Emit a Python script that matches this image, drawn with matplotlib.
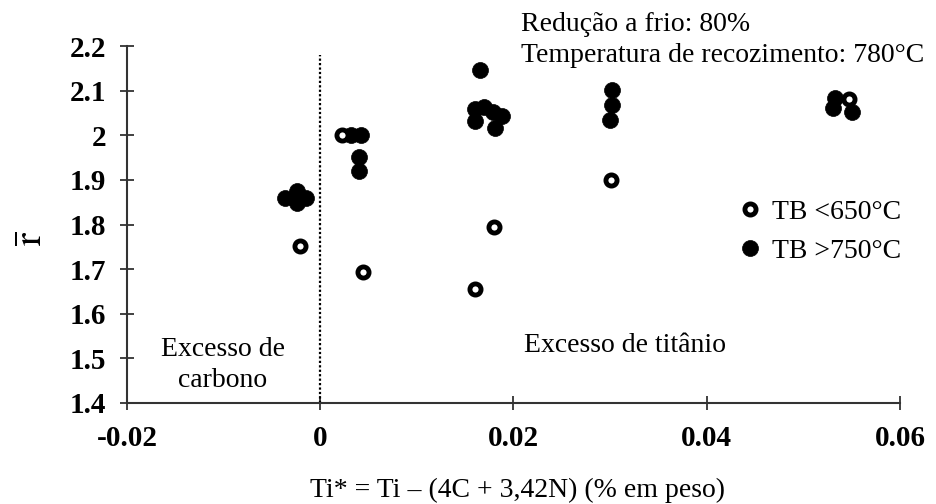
import matplotlib
matplotlib.use("Agg")
import matplotlib.pyplot as plt
import numpy as np

# dados (Ti* em % peso, r médio)
x_baixo = [-0.0021, 0.0022, 0.0044, 0.0160, 0.0180, 0.0301, 0.0547]
r_baixo = [1.752, 2.000, 1.694, 1.655, 1.795, 1.900, 2.081]

x_alto = [-0.0036, -0.0024, -0.0024, -0.0024, -0.0015,
          0.0032, 0.0042, 0.0040, 0.0040,
          0.0165, 0.0160, 0.0160, 0.0169, 0.0179, 0.0188, 0.0181,
          0.0302, 0.0302, 0.0300,
          0.0533, 0.0531, 0.0550]
r_alto = [1.859, 1.874, 1.859, 1.848, 1.859,
          2.000, 2.000, 1.951, 1.919,
          2.147, 2.058, 2.033, 2.063, 2.053, 2.043, 2.016,
          2.102, 2.068, 2.035,
          2.083, 2.061, 2.053]

xticks = [-0.02, 0, 0.02, 0.04, 0.06]
xtick_labels = ['-0.02', '0', '0.02', '0.04', '0.06']
yticks = [1.4, 1.5, 1.6, 1.7, 1.8, 1.9, 2.0, 2.1, 2.2]
ytick_labels = ['1.4', '1.5', '1.6', '1.7', '1.8', '1.9', '2', '2.1', '2.2']

plt.rcParams['font.family'] = ['Liberation Serif', 'DejaVu Serif']
plt.rcParams['mathtext.fontset'] = 'stix'

fig = plt.figure(figsize=(9.36, 5.04), dpi=100)
ax = fig.add_axes([0.1357, 0.2004, 0.8258, 0.7083])

# linha pontilhada em Ti* = 0
ax.plot([0, 0], [1.4, 2.18], linestyle=(0, (1, 1)), color='black', linewidth=1.6)

ax.plot(x_alto, r_alto, linestyle='none', marker='o', markersize=11.5,
        markerfacecolor='black', markeredgecolor='black', markeredgewidth=0.5,
        label='TB >750°C', zorder=3)
ax.plot(x_baixo, r_baixo, linestyle='none', marker='o', markersize=8,
        markerfacecolor='white', markeredgecolor='black', markeredgewidth=3.5,
        label='TB <650°C', zorder=4)

ax.set_xlim(-0.02, 0.06)
ax.set_ylim(1.4, 2.2)
ax.set_xticks(xticks)
ax.set_xticklabels(xtick_labels)
ax.set_yticks(yticks)
ax.set_yticklabels(ytick_labels)

for s in ['top', 'right']:
    ax.spines[s].set_visible(False)
for s in ['left', 'bottom']:
    ax.spines[s].set_linewidth(1.5)
    ax.spines[s].set_color('#333333')

ax.tick_params(axis='both', direction='inout', length=10, width=1.3,
               color='#333333', labelsize=21)
ax.tick_params(axis='y', pad=10)
ax.tick_params(axis='x', pad=11)
for lab in ax.get_xticklabels() + ax.get_yticklabels():
    lab.set_fontweight('bold')

ax.set_xlabel('Ti* = Ti – (4C + 3,42N) (% em peso)', fontsize=20)
ax.xaxis.set_label_coords(0.505, -0.21)
ax.set_ylabel(r'$\overline{\mathrm{r}}$', fontsize=28, rotation=90)
ax.yaxis.set_label_coords(-0.098, 0.462)

fig.text(0.557, 0.921, 'Redução a frio: 80%\nTemperatura de recozimento: 780°C',
         fontsize=20, va='center', ha='left', linespacing=1.32)
ax.text(-0.0101, 1.485, 'Excesso de\ncarbono', fontsize=20, ha='center',
        va='center', linespacing=1.35)
ax.text(0.0315, 1.528, 'Excesso de titânio', fontsize=20, ha='center', va='center')

handles, labels = ax.get_legend_handles_labels()
ax.legend(handles[::-1], labels[::-1], loc='upper left',
          bbox_to_anchor=(0.78, 0.627), bbox_transform=fig.transFigure,
          frameon=False, fontsize=20, handlelength=0.6, handletextpad=0.5,
          labelspacing=0.5, borderaxespad=0)

fig.savefig('out.png', dpi=100)
